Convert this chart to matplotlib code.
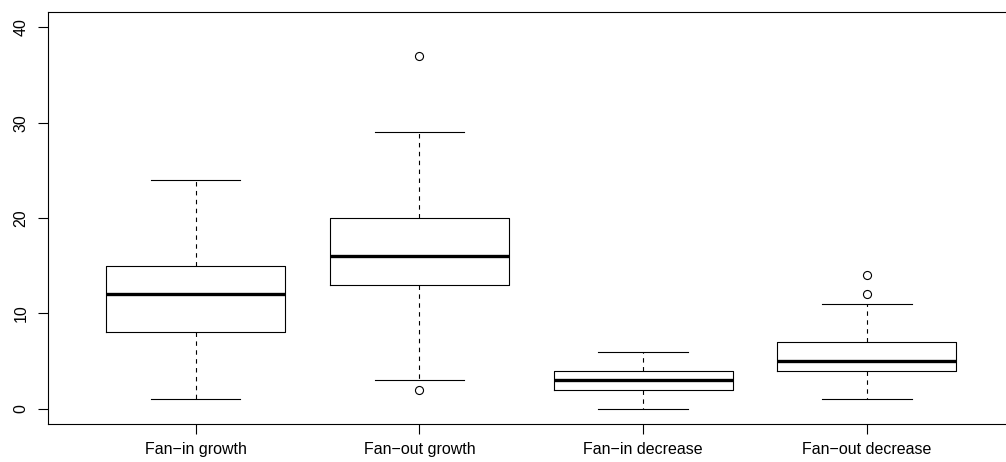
import matplotlib
matplotlib.use("Agg")
import matplotlib.pyplot as plt

categories = ["Fan\u2212in growth", "Fan\u2212out growth", "Fan\u2212in decrease", "Fan\u2212out decrease"]
whislo = [1, 3, 0, 1]
q1 = [8, 13, 2, 4]
med = [12, 16, 3, 5]
q3 = [15, 20, 4, 7]
whishi = [24, 29, 6, 11]
fliers = [[], [37, 2], [], [12, 14]]
yticks = [0, 10, 20, 30, 40]

plt.rcParams['font.family'] = ['Liberation Sans', 'DejaVu Sans']

fig = plt.figure(figsize=(10.06, 4.62), dpi=100)
ax = fig.add_axes([48/1006, 38/462, (1014.6-48)/1006, 412/462])

stats = []
for i, c in enumerate(categories):
    stats.append(dict(label=c, whislo=whislo[i], q1=q1[i], med=med[i],
                      q3=q3[i], whishi=whishi[i], fliers=fliers[i]))

lw = 0.8
ax.bxp(stats, positions=[1, 2, 3, 4], widths=0.8, showfliers=True,
       boxprops=dict(color='black', linewidth=lw),
       medianprops=dict(color='black', linewidth=2.4, solid_capstyle='butt'),
       whiskerprops=dict(color='black', linewidth=lw, linestyle=(0, (4, 4))),
       capprops=dict(color='black', linewidth=lw),
       capwidths=0.4,
       flierprops=dict(marker='o', markerfacecolor='none', markeredgecolor='black',
                       markersize=5.8, markeredgewidth=0.8))

ax.set_xlim(0.34, 4.66)
ax.set_ylim(-1.6, 41.6)
ax.set_yticks(yticks)
ax.set_yticklabels([str(v) for v in yticks], rotation=90, va='center')
ax.set_xticks([1, 2, 3, 4])
ax.set_xticklabels(categories)
ax.tick_params(axis='both', direction='out', length=7, width=0.8, labelsize=11.5)
ax.tick_params(axis='x', pad=6)
ax.tick_params(axis='y', pad=7)
for s in ax.spines.values():
    s.set_linewidth(0.8)

fig.savefig("out.png", dpi=100)
